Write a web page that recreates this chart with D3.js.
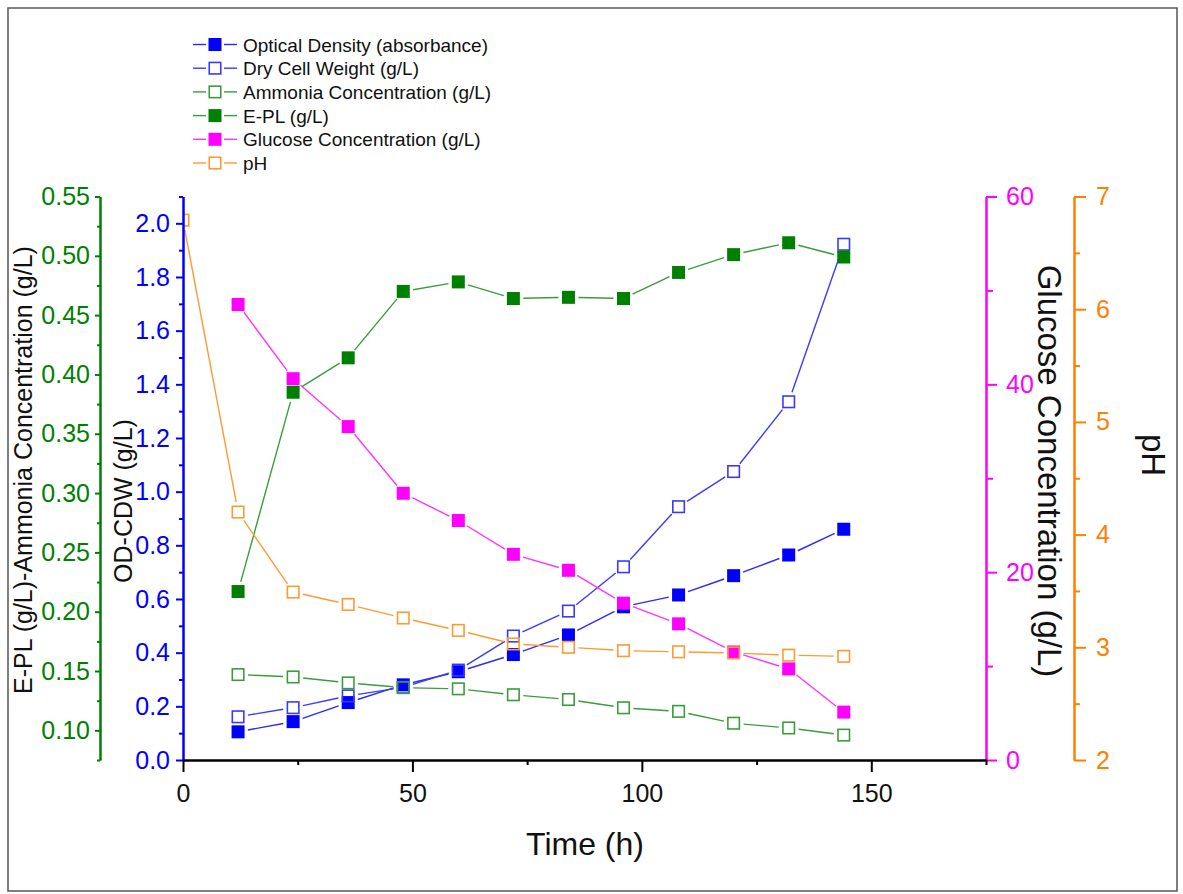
<!DOCTYPE html>
<html>
<head>
<meta charset="utf-8">
<script src="https://cdn.jsdelivr.net/npm/d3@7"></script>
<style>
  body { margin: 0; background: #fff; }
  text { font-family: "Liberation Sans", Arial, sans-serif; }
</style>
</head>
<body>
<script>
// sampling times (h)
var hours = [12, 24, 36, 48, 60, 72, 84, 96, 108, 120, 132, 144];
var phHours = [0, 12, 24, 36, 48, 60, 72, 84, 96, 108, 120, 132, 144];

// series values
var opticalDensity = [0.105, 0.143, 0.214, 0.280, 0.329, 0.393, 0.466, 0.571, 0.615, 0.687, 0.764, 0.860];
var dryCellWeight  = [0.161, 0.195, 0.239, 0.271, 0.335, 0.462, 0.555, 0.720, 0.944, 1.075, 1.335, 1.922];
var ammonia        = [0.147, 0.145, 0.140, 0.136, 0.135, 0.130, 0.126, 0.119, 0.116, 0.106, 0.102, 0.096];
var epl            = [0.217, 0.385, 0.414, 0.470, 0.478, 0.464, 0.465, 0.464, 0.486, 0.501, 0.511, 0.499];
var glucose        = [48.5, 40.6, 35.5, 28.4, 25.5, 21.9, 20.2, 16.7, 14.5, 11.5, 9.7, 5.1];
var ph             = [6.79, 4.20, 3.49, 3.38, 3.26, 3.15, 3.03, 3.00, 2.97, 2.96, 2.95, 2.93, 2.92];

// tick labels
var timeTicks = [0, 50, 100, 150];
var timeMinor = [25, 75, 125, 175];
var greenTicks = [0.10, 0.15, 0.20, 0.25, 0.30, 0.35, 0.40, 0.45, 0.50, 0.55];
var greenMinor = [0.075, 0.125, 0.175, 0.225, 0.275, 0.325, 0.375, 0.425, 0.475, 0.525];
var blueTicks = [0, 0.2, 0.4, 0.6, 0.8, 1.0, 1.2, 1.4, 1.6, 1.8, 2.0];
var blueMinor = [0.1, 0.3, 0.5, 0.7, 0.9, 1.1, 1.3, 1.5, 1.7, 1.9, 2.1];
var glucoseTicks = [0, 20, 40, 60];
var glucoseMinor = [10, 30, 50];
var phTicks = [2, 3, 4, 5, 6, 7];
var phMinor = [2.5, 3.5, 4.5, 5.5, 6.5];

var W = 1183, H = 894;
var plotLeft = 183, plotRight = 986, plotTop = 196.5, plotBottom = 760;

var svg = d3.select('body').append('svg')
    .attr('width', W)
    .attr('height', H);

svg.append('rect')
    .attr('x', 8).attr('y', 8)
    .attr('width', 1169).attr('height', 883)
    .attr('fill', 'none')
    .attr('stroke', '#555')
    .attr('stroke-width', 1.5);

var x = d3.scaleLinear().domain([0, 175]).range([plotLeft, plotRight]);
var yBlue = d3.scaleLinear().domain([0, 2.1]).range([plotBottom, plotTop]);
var yGreen = d3.scaleLinear().domain([0.075, 0.55]).range([plotBottom, plotTop]);
var yGlu = d3.scaleLinear().domain([0, 60]).range([plotBottom, plotTop]);
var yPh = d3.scaleLinear().domain([2, 7]).range([plotBottom, plotTop]);

svg.append('clipPath').attr('id', 'plotclip')
    .append('rect')
    .attr('x', plotLeft).attr('y', 180)
    .attr('width', plotRight - plotLeft).attr('height', 600);

var plot = svg.append('g').attr('clip-path', 'url(#plotclip)');

var series = [
    {name: 'Optical Density (absorbance)', xs: hours, ys: opticalDensity, scale: yBlue, color: '#0000ff', line: '#2a2aff', filled: true},
    {name: 'Dry Cell Weight (g/L)', xs: hours, ys: dryCellWeight, scale: yBlue, color: '#3a3aff', line: '#3a3aff', filled: false},
    {name: 'Ammonia Concentration (g/L)', xs: hours, ys: ammonia, scale: yGreen, color: '#3c9c3c', line: '#3c9c3c', filled: false},
    {name: 'E-PL (g/L)', xs: hours, ys: epl, scale: yGreen, color: '#008000', line: '#3c9c3c', filled: true},
    {name: 'Glucose Concentration (g/L)', xs: hours, ys: glucose, scale: yGlu, color: '#ff00ff', line: '#ff33ff', filled: true},
    {name: 'pH', xs: phHours, ys: ph, scale: yPh, color: '#ff9a33', line: '#ff9a33', filled: false}
];

var gap = 10, ms = 13;

function drawMarker(g, cx, cy, s) {
    if (s.filled) {
        g.append('rect')
            .attr('x', cx - ms / 2).attr('y', cy - ms / 2)
            .attr('width', ms).attr('height', ms)
            .attr('fill', s.color);
    } else {
        g.append('rect')
            .attr('x', cx - ms / 2 + 0.75).attr('y', cy - ms / 2 + 0.75)
            .attr('width', ms - 1.5).attr('height', ms - 1.5)
            .attr('fill', 'none')
            .attr('stroke', s.color)
            .attr('stroke-width', 1.6);
    }
}

series.forEach(function(s) {
    var g = plot.append('g');
    var pts = s.xs.map(function(t, i) { return [x(t), s.scale(s.ys[i])]; });
    for (var i = 0; i < pts.length - 1; i++) {
        var dx = pts[i + 1][0] - pts[i][0], dy = pts[i + 1][1] - pts[i][1];
        var len = Math.sqrt(dx * dx + dy * dy);
        if (len <= 2 * gap) continue;
        var ux = dx / len, uy = dy / len;
        g.append('line')
            .attr('x1', pts[i][0] + ux * gap).attr('y1', pts[i][1] + uy * gap)
            .attr('x2', pts[i + 1][0] - ux * gap).attr('y2', pts[i + 1][1] - uy * gap)
            .attr('stroke', s.line)
            .attr('stroke-width', 1.4);
    }
    pts.forEach(function(p) { drawMarker(g, p[0], p[1], s); });
});

// axes
function styleAxis(g, color, size) {
    g.select('.domain').attr('stroke', color).attr('stroke-width', 2);
    g.selectAll('.tick line').attr('stroke', color).attr('stroke-width', 2);
    g.selectAll('.tick text')
        .attr('fill', color)
        .style('font-size', size + 'px')
        .style('font-family', '"Liberation Sans", Arial, sans-serif');
}

function addAxis(axisFn, scale, major, minor, fmt, color, bigTick, smallTick, pad, transform) {
    var gMinor = svg.append('g').attr('transform', transform)
        .call(axisFn(scale).tickValues(minor).tickSize(smallTick).tickSizeOuter(0).tickFormat(''));
    styleAxis(gMinor, color, 25);
    var gMajor = svg.append('g').attr('transform', transform)
        .call(axisFn(scale).tickValues(major).tickSize(bigTick).tickSizeOuter(0).tickPadding(pad).tickFormat(fmt));
    styleAxis(gMajor, color, 25);
    return gMajor;
}

addAxis(d3.axisLeft, yGreen, greenTicks, greenMinor, d3.format('.2f'), '#008000', 5, 3, 5, 'translate(100,0)');
addAxis(d3.axisLeft, yBlue, blueTicks, blueMinor, d3.format('.1f'), '#0000ff', 7, 4, 6, 'translate(183,0)');
addAxis(d3.axisRight, yGlu, glucoseTicks, glucoseMinor, d3.format('d'), '#ff00ff', 11, 7, 9, 'translate(986,0)');
addAxis(d3.axisRight, yPh, phTicks, phMinor, d3.format('d'), '#ff8000', 12, 6, 10, 'translate(1074,0)');

var gx = addAxis(d3.axisBottom, x, timeTicks, timeMinor, d3.format('d'), '#000', 12, 5, 12, 'translate(0,760)');
gx.selectAll('.tick text').attr('fill', '#111');

// axis titles
svg.append('text')
    .attr('transform', 'translate(32,470) rotate(-90)')
    .attr('text-anchor', 'middle')
    .style('font-size', '25px')
    .attr('fill', '#111')
    .text('E-PL (g/L)-Ammonia Concentration (g/L)');

svg.append('text')
    .attr('transform', 'translate(132,501) rotate(-90)')
    .attr('text-anchor', 'middle')
    .style('font-size', '25px')
    .attr('fill', '#111')
    .text('OD-CDW (g/L)');

svg.append('text')
    .attr('transform', 'translate(1038,471) rotate(90)')
    .attr('text-anchor', 'middle')
    .style('font-size', '33px')
    .attr('fill', '#111')
    .text('Glucose Concentration (g/L)');

svg.append('text')
    .attr('transform', 'translate(1142,455) rotate(90)')
    .attr('text-anchor', 'middle')
    .style('font-size', '33px')
    .attr('fill', '#111')
    .text('pH');

svg.append('text')
    .attr('x', 585).attr('y', 855)
    .attr('text-anchor', 'middle')
    .style('font-size', '32px')
    .attr('fill', '#111')
    .text('Time (h)');

// legend
var legend = svg.append('g');
series.forEach(function(s, i) {
    var cy = 44.5 + i * 23.7;
    var g = legend.append('g');
    g.append('line').attr('x1', 193).attr('x2', 206).attr('y1', cy).attr('y2', cy)
        .attr('stroke', s.line).attr('stroke-width', 1.4);
    g.append('line').attr('x1', 224).attr('x2', 237).attr('y1', cy).attr('y2', cy)
        .attr('stroke', s.line).attr('stroke-width', 1.4);
    drawMarker(g, 215, cy, s);
    g.append('text')
        .attr('x', 243).attr('y', cy + 7)
        .style('font-size', '19px')
        .attr('fill', '#111')
        .text(s.name);
});
</script>
</body>
</html>
